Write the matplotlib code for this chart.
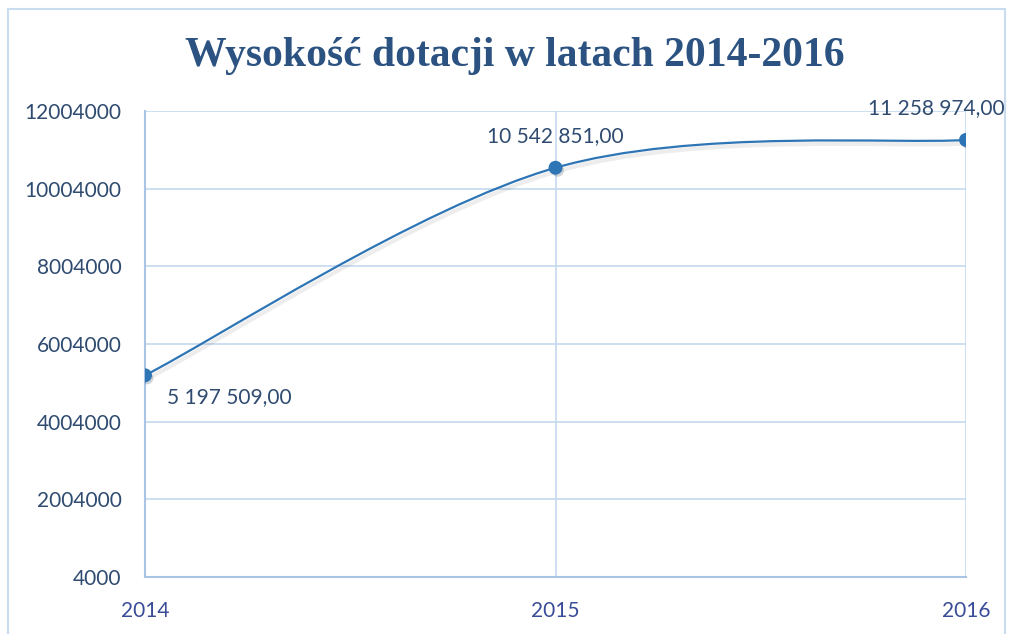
import numpy as np
import matplotlib.pyplot as plt
from matplotlib.path import Path
from matplotlib.patches import PathPatch, Rectangle
import matplotlib.patheffects as pe

years = [2014, 2015, 2016]
values = [5197509.00, 10542851.00, 11258974.00]
labels = ['5 197 509,00', '10 542 851,00', '11 258 974,00']
yticks = [4000, 2004000, 4004000, 6004000, 8004000, 10004000, 12004000]

title_color = '#2b5281'
tick_color = '#2f4b70'
xtick_color = '#3a4c98'
line_color = '#2e75b6'
grid_color = '#c5d9ef'

fig = plt.figure(figsize=(10.12, 6.34), dpi=100)
ax = fig.add_axes([145 / 1012, 57 / 634, 821 / 1012, 466 / 634])

# smoothed line like excel (catmull-rom bezier)
pts = np.column_stack([years, values]).astype(float)
ext = np.vstack([pts[0], pts, pts[-1]])
verts = [tuple(pts[0])]
codes = [Path.MOVETO]
for i in range(1, len(ext) - 2):
    p0, p1, p2, p3 = ext[i - 1], ext[i], ext[i + 1], ext[i + 2]
    c1 = p1 + (p2 - p0) / 6
    c2 = p2 - (p3 - p1) / 6
    verts += [tuple(c1), tuple(c2), tuple(p2)]
    codes += [Path.CURVE4] * 3
shadow = [pe.SimpleLineShadow(offset=(1.5, -2.5), alpha=0.07, shadow_color='k', linewidth=3), pe.Normal()]
ax.add_patch(PathPatch(Path(verts, codes), fill=False, edgecolor=line_color, lw=1.6,
                       path_effects=shadow, zorder=3))
ax.plot(years, values, 'o', color=line_color, ms=9, zorder=4,
        path_effects=[pe.SimplePatchShadow(offset=(1.5, -2), alpha=0.2), pe.Normal()])

lab_kw = dict(textcoords='offset points', fontsize=15, color=tick_color, family='Lato', va='center')
ax.annotate(labels[0], (years[0], values[0]), xytext=(16, -16), ha='left', **lab_kw)
ax.annotate(labels[1], (years[1], values[1]), xytext=(-49, 23), ha='left', **lab_kw)
ax.annotate(labels[2], (years[2], values[2]), xytext=(28, 23), ha='right', **lab_kw)

ax.set_xlim(2014, 2016)
ax.set_ylim(4000, 12004000)
ax.set_xticks(years)
ax.set_xticklabels([str(y) for y in years], fontsize=15, color=xtick_color, family='Lato')
ax.set_yticks(yticks)
ax.set_yticklabels([str(v) for v in yticks], fontsize=15, color=tick_color, family='Lato')
ax.tick_params(length=0, pad=17)
ax.grid(True, color=grid_color, lw=1.2)
for s in ['top', 'right']:
    ax.spines[s].set_visible(False)
for s in ['left', 'bottom']:
    ax.spines[s].set_color('#a9c4e4')
    ax.spines[s].set_linewidth(1.5)

fig.text(515 / 1012, 1 - 56 / 634, 'Wysokość dotacji w latach 2014-2016', ha='center', va='center',
         fontsize=30, fontweight='bold', color=title_color, family='Liberation Serif')
fig.patches.append(Rectangle((8 / 1012, -0.01), 997 / 1012, 1 - 9 / 634 + 0.01,
                             transform=fig.transFigure, fill=False, edgecolor='#c9dcf0', lw=1.5))

fig.savefig('out.png', dpi=100)
